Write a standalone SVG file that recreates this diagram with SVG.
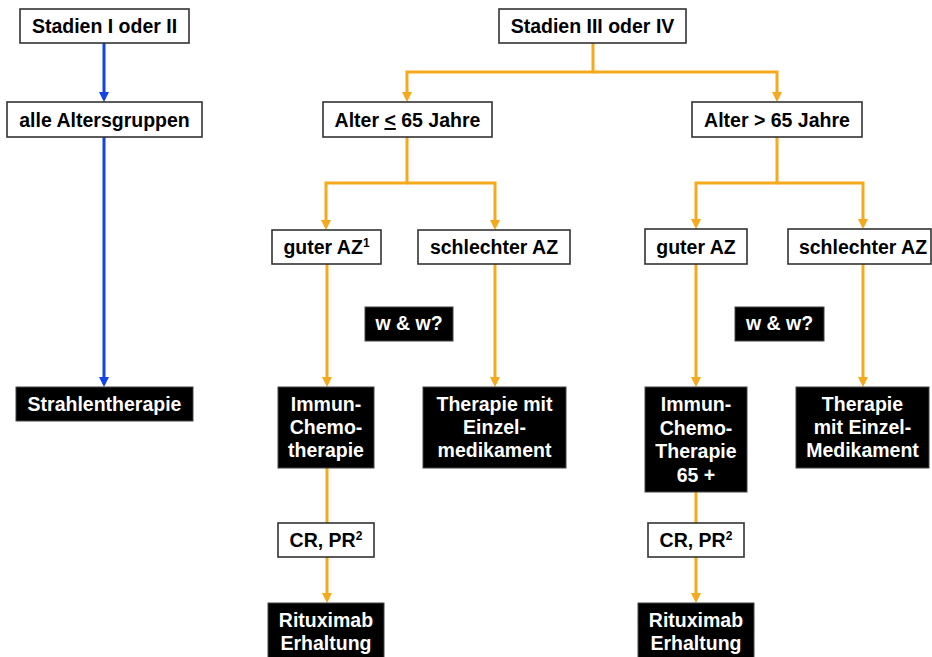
<svg xmlns="http://www.w3.org/2000/svg" width="932" height="657" viewBox="0 0 932 657">
<defs>
<style>
.box{fill:#fff;stroke:#333;stroke-width:1.6}
.dark{fill:#000;stroke:#444;stroke-width:1}
text{font-family:"Liberation Sans",Arial,sans-serif;font-weight:bold;font-size:19.5px;text-anchor:middle}
.sup{font-size:12px}
.w{fill:#fff}
.k{fill:#000}
.or{fill:none;stroke:#F5A91C;stroke-width:3}
.bl{fill:none;stroke:#1443E6;stroke-width:3}
</style>
<marker id="ao" markerUnits="userSpaceOnUse" markerWidth="12" markerHeight="12" refX="7" refY="5" orient="auto"><path d="M0,0 L10,5 L0,10 z" fill="#F5A91C"/></marker>
<marker id="ab" markerUnits="userSpaceOnUse" markerWidth="12" markerHeight="12" refX="7" refY="5" orient="auto"><path d="M0,0 L10,5 L0,10 z" fill="#1443E6"/></marker>
</defs>
<rect width="932" height="657" fill="#fff"/>
<g id="connectors">
<path class="bl" d="M104,43 V99" marker-end="url(#ab)"/>
<path class="bl" d="M104,137 V384" marker-end="url(#ab)"/>
<path class="or" d="M593,43 V72 H407 V99" marker-end="url(#ao)"/>
<path class="or" d="M593,72 H777 V99" marker-end="url(#ao)"/>
<path class="or" d="M407,137 V183 H326 V227" marker-end="url(#ao)"/>
<path class="or" d="M407,183 H495 V227" marker-end="url(#ao)"/>
<path class="or" d="M777,137 V183 H696 V226" marker-end="url(#ao)"/>
<path class="or" d="M777,183 H863 V226" marker-end="url(#ao)"/>
<path class="or" d="M327,264 V384" marker-end="url(#ao)"/>
<path class="or" d="M495,264 V384" marker-end="url(#ao)"/>
<path class="or" d="M696,264 V384" marker-end="url(#ao)"/>
<path class="or" d="M863,264 V384" marker-end="url(#ao)"/>
<path class="or" d="M327,468 V523"/>
<path class="or" d="M327,557 V600" marker-end="url(#ao)"/>
<path class="or" d="M696,492 V523"/>
<path class="or" d="M696,557 V600" marker-end="url(#ao)"/>
</g>
<g id="n_stadien12"><rect class="box" x="20" y="9" width="169" height="34"/><text class="k" x="104.5" y="33">Stadien I oder II</text></g>
<g id="n_alle"><rect class="box" x="7" y="102" width="195" height="35"/><text class="k" x="104.5" y="127">alle Altersgruppen</text></g>
<g id="n_strahlen"><rect class="dark" x="16" y="387" width="177" height="34"/><text class="w" x="104.5" y="411">Strahlentherapie</text></g>
<g id="n_stadien34"><rect class="box" x="499" y="9" width="187" height="34"/><text class="k" x="592.5" y="33">Stadien III oder IV</text></g>
<g id="n_alter_le"><rect class="box" x="323" y="102" width="169" height="35"/><text class="k" x="407.5" y="127">Alter <tspan text-decoration="underline">&lt;</tspan> 65 Jahre</text></g>
<g id="n_alter_gt"><rect class="box" x="692" y="102" width="170" height="35"/><text class="k" x="777" y="127">Alter &gt; 65 Jahre</text></g>
<g id="n_guter1"><rect class="box" x="272" y="230" width="109" height="34"/><text class="k" x="326.5" y="254">guter AZ<tspan class="sup" dy="-7">1</tspan></text></g>
<g id="n_schlecht1"><rect class="box" x="418" y="230" width="152" height="34"/><text class="k" x="494" y="254">schlechter AZ</text></g>
<g id="n_guter2"><rect class="box" x="645" y="229" width="102" height="35"/><text class="k" x="696" y="254">guter AZ</text></g>
<g id="n_schlecht2"><rect class="box" x="788" y="229" width="143" height="35"/><text class="k" x="863" y="254">schlechter AZ</text></g>
<g id="n_ww1"><rect class="dark" x="365" y="307" width="88" height="34"/><text class="w" x="409" y="330">w &amp; w?</text></g>
<g id="n_ww2"><rect class="dark" x="735" y="307" width="89" height="34"/><text class="w" x="779.5" y="330">w &amp; w?</text></g>
<g id="n_immun1"><rect class="dark" x="278" y="387" width="96" height="81"/><text class="w" x="326" y="411">Immun-<tspan x="326" dy="23">Chemo-</tspan><tspan x="326" dy="23">therapie</tspan></text></g>
<g id="n_einzel1"><rect class="dark" x="423" y="387" width="143" height="81"/><text class="w" x="494.5" y="411">Therapie mit<tspan x="494.5" dy="23">Einzel-</tspan><tspan x="494.5" dy="23">medikament</tspan></text></g>
<g id="n_immun2"><rect class="dark" x="645" y="387" width="102" height="105"/><text class="w" x="696" y="411">Immun-<tspan x="696" dy="23.5">Chemo-</tspan><tspan x="696" dy="23.5">Therapie</tspan><tspan x="696" dy="23.5">65 +</tspan></text></g>
<g id="n_einzel2"><rect class="dark" x="796" y="387" width="133" height="81"/><text class="w" x="862.5" y="411">Therapie<tspan x="862.5" dy="23">mit Einzel-</tspan><tspan x="862.5" dy="23">Medikament</tspan></text></g>
<g id="n_cr1"><rect class="box" x="278" y="523" width="96" height="34"/><text class="k" x="326" y="547">CR, PR<tspan class="sup" dy="-7">2</tspan></text></g>
<g id="n_cr2"><rect class="box" x="648" y="523" width="96" height="34"/><text class="k" x="696" y="547">CR, PR<tspan class="sup" dy="-7">2</tspan></text></g>
<g id="n_ritux1"><rect class="dark" x="268" y="603" width="116" height="60"/><text class="w" x="326" y="627">Rituximab<tspan x="326" dy="23">Erhaltung</tspan></text></g>
<g id="n_ritux2"><rect class="dark" x="638" y="603" width="116" height="60"/><text class="w" x="696" y="627">Rituximab<tspan x="696" dy="23">Erhaltung</tspan></text></g>
</svg>
